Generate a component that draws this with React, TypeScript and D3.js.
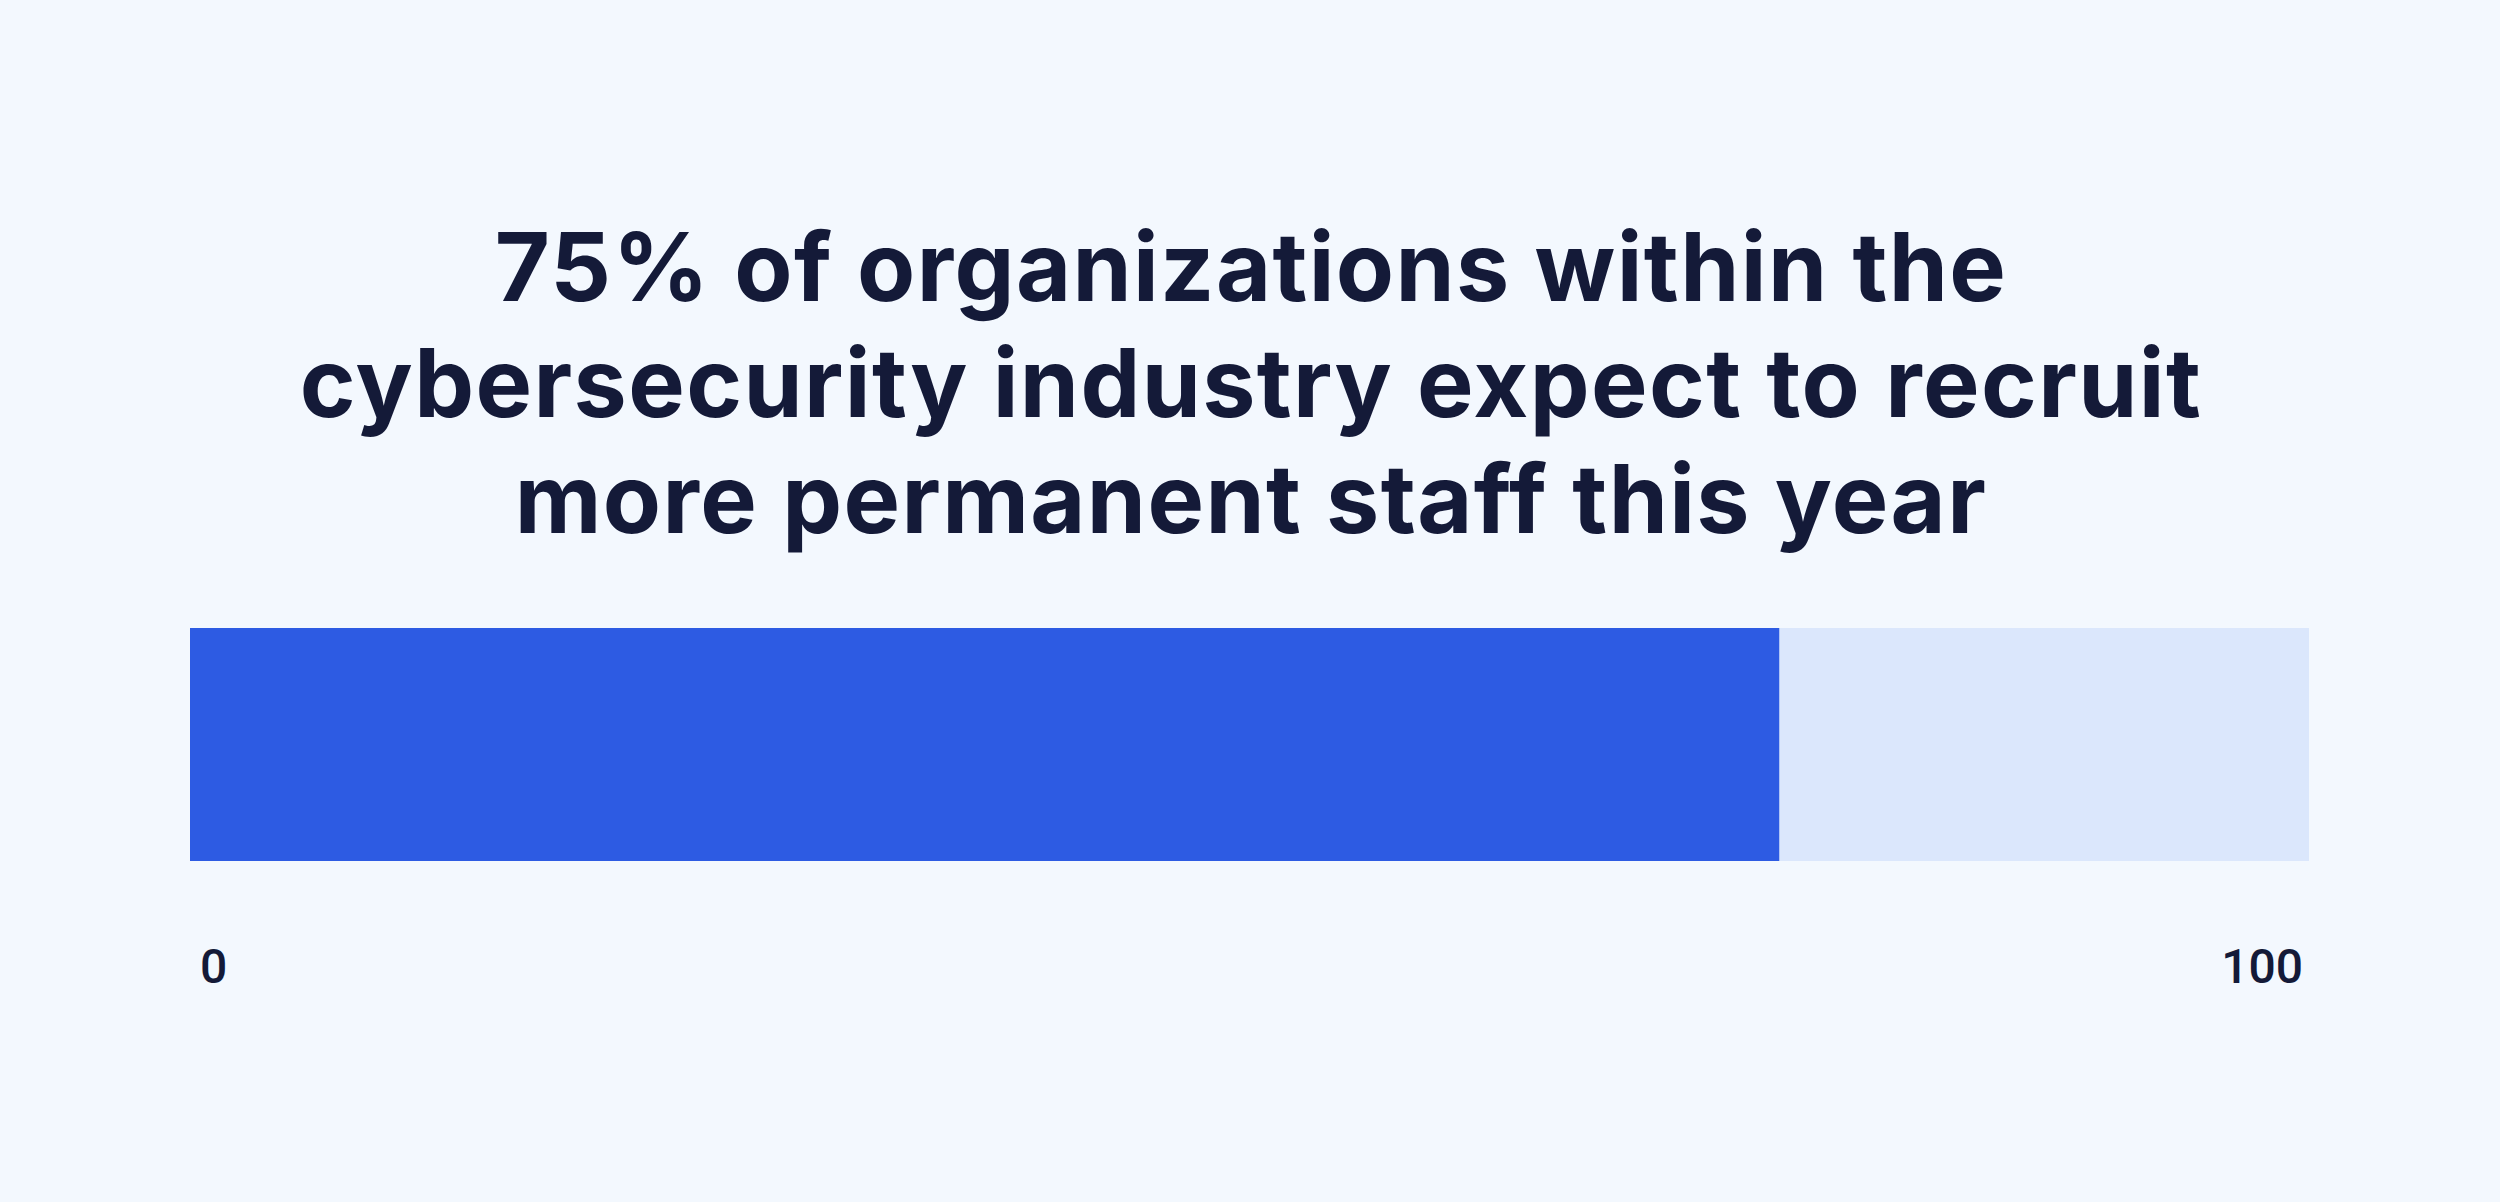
import * as d3 from 'd3';

const titleLines = [
  '75% of organizations within the',
  'cybersecurity industry expect to recruit',
  'more permanent staff this year',
];
const shareValue = 75;
const scaleMax = 100;
const tickValues = [0, 100];

const App = () => {
  const width = 2500;
  const height = 1202;
  const margin = { left: 190, right: 191 };
  const barTop = 628;
  const barHeight = 233;

  const xScale = d3.scaleLinear()
    .domain([0, scaleMax])
    .range([margin.left, width - margin.right]);

  return (
    <svg
      width={width}
      height={height}
      style={{ position: 'absolute', left: 0, top: 0, display: 'block' }}
    >
      <rect width={width} height={height} fill="#f3f8fe" />
      <g>
        {titleLines.map((line, i) => (
          <text
            key={line}
            x={width / 2 + 1}
            y={301 + i * 116}
            textAnchor="middle"
            fill="#141a38"
            style={{ fontFamily: 'Inter', fontWeight: 700, fontSize: 95, letterSpacing: 1.4 }}
          >
            {line}
          </text>
        ))}
      </g>
      <rect
        x={xScale(0)}
        y={barTop}
        width={xScale(scaleMax) - xScale(0)}
        height={barHeight}
        fill="#dbe7fc"
      />
      <rect
        x={xScale(0)}
        y={barTop}
        width={xScale(shareValue) - xScale(0)}
        height={barHeight}
        fill="#2d5be3"
      />
      {tickValues.map((t, i) => (
        <text
          key={t}
          x={i === 0 ? xScale(t) + 10 : xScale(t) - 6}
          y={983}
          textAnchor={i === 0 ? 'start' : 'end'}
          fill="#141a38"
          style={{ fontFamily: 'Roboto', fontWeight: 500, fontSize: 48 }}
        >
          {t}
        </text>
      ))}
    </svg>
  );
};

export default App;
